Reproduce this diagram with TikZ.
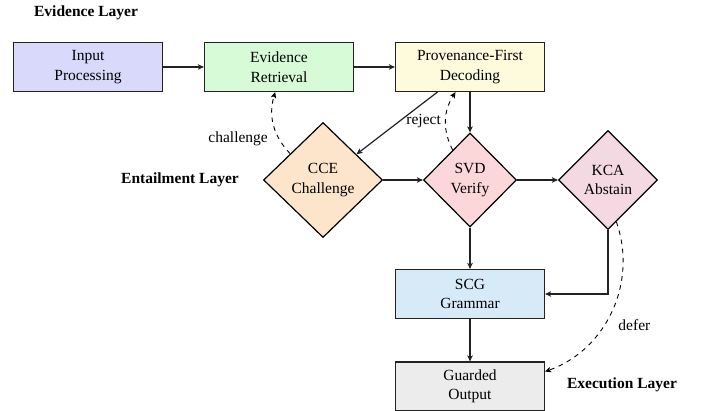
\documentclass[tikz,border=0pt]{standalone}
\usepackage{fontspec}
\setmainfont{Liberation Serif}
\usetikzlibrary{shapes.geometric,arrows.meta}

\definecolor{cInput}{HTML}{D9D9FC}
\definecolor{cRetr}{HTML}{D7FAD7}
\definecolor{cProv}{HTML}{FEFADC}
\definecolor{cCCE}{HTML}{FDE5CC}
\definecolor{cSVD}{HTML}{FBD7DA}
\definecolor{cKCA}{HTML}{F4D9E2}
\definecolor{cSCG}{HTML}{D6EAF8}
\definecolor{cOut}{HTML}{ECECEC}
\definecolor{edgeclr}{HTML}{222222}

\tikzset{
  x=1pt, y=1pt,
  every node/.style={font=\fontsize{15.5}{19.5}\selectfont},
  stagebox/.style={draw=edgeclr, line width=1.2pt, rectangle, minimum width=149pt,
    minimum height=49pt, align=center, inner sep=0pt},
  gate/.style={draw=black, line width=1.2pt, diamond, align=center, inner sep=0pt},
  layerlabel/.style={font=\fontsize{15.5}{19.5}\selectfont\bfseries},
  flow/.style={draw=edgeclr, line width=1.2pt, -{Stealth[length=6pt,width=5.5pt,inset=1.5pt]}},
  backflow/.style={draw=black, line width=0.9pt, dash pattern=on 4.6pt off 4.6pt,
    -{Stealth[length=6pt,width=5.5pt,inset=1.5pt]}},
}

\begin{document}
\begin{tikzpicture}
\useasboundingbox (0,0) rectangle (707,410);

% layer captions
\node[layerlabel] (capEvid) at (86,397) {Evidence Layer};
\node[layerlabel] (capEnt) at (180,230) {Entailment Layer};
\node[layerlabel] (capExec) at (622,25) {Execution Layer};

% evidence stages
\node[stagebox, fill=cInput] (inp) at (88,343) {Input\\Processing};
\node[stagebox, fill=cRetr] (evr) at (279,343) {Evidence\\Retrieval};
\node[stagebox, fill=cProv] (prov) at (470,343) {Provenance-First\\Decoding};

% entailment gates
\node[gate, fill=cCCE, minimum width=119pt, minimum height=115pt] (cce) at (323,230) {CCE\\Challenge};
\node[gate, fill=cSVD, minimum width=93pt, minimum height=94pt] (svd) at (470,230) {SVD\\Verify};
\node[gate, fill=cKCA, minimum width=99pt, minimum height=99pt] (kca) at (608,230) {KCA\\Abstain};

% execution stages
\node[stagebox, fill=cSCG] (scg) at (470,116) {SCG\\Grammar};
\node[stagebox, fill=cOut] (gout) at (470,23.5) {Guarded\\Output};

% main flow
\draw[flow] (inp) -- (evr);
\draw[flow] (evr) -- (prov);
\draw[flow] (prov) -- (cce);
\draw[flow] (prov) -- (svd);
\draw[flow] (cce) -- (svd);
\draw[flow] (svd) -- (kca);
\draw[flow] (svd) -- (scg);
\draw[flow] (kca.south) |- (scg.east);
\draw[flow] (scg) -- (gout);

% feedback paths
\draw[backflow] (svd) to[bend left] node[left, xshift=-1pt] {reject} (prov);
\draw[backflow] (cce) to[bend left] node[below left, xshift=-2pt, yshift=-3pt] {challenge} (evr);
\draw[backflow] (kca) to[bend left=45] node[below right, xshift=3pt, yshift=-4pt] {defer} (gout);
\end{tikzpicture}
\end{document}
